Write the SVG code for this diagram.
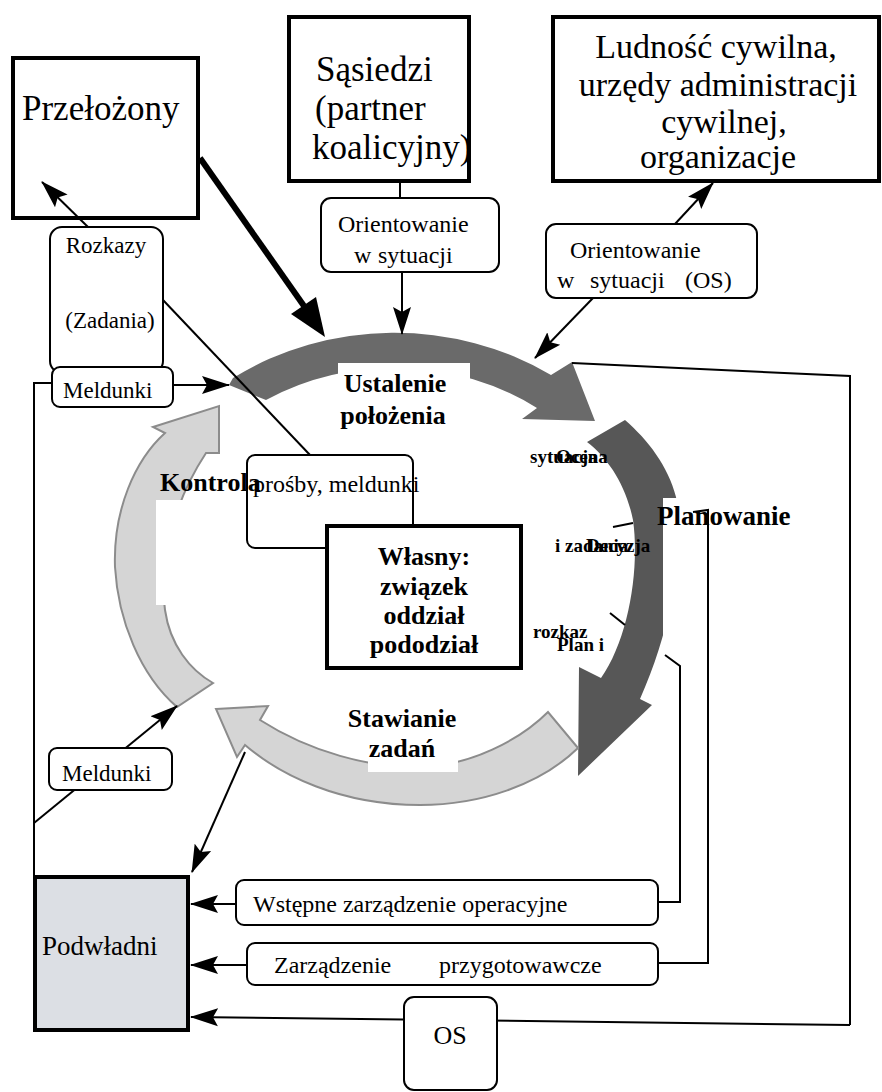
<svg xmlns="http://www.w3.org/2000/svg" width="882" height="1092" viewBox="0 0 882 1092">
<defs>
<style>
  .t{font-family:"Liberation Serif","Times New Roman",serif;fill:#000}
  .b{font-weight:bold}
  .box{fill:#fff;stroke:#000;stroke-width:4}
  .open{fill:none;stroke:#000;stroke-width:4}
  .rbox{fill:#fff;stroke:#000;stroke-width:2}
  .ln{fill:none;stroke:#000;stroke-width:2}
  .arr{fill:none;stroke:#000;stroke-width:2;marker-end:url(#ah)}
  .dark{fill:#6a6a6a}
  .darker{fill:#575757}
  .light{fill:#d5d5d5;stroke:#8c8c8c;stroke-width:2}
  .patch{fill:#fff}
</style>
<marker id="ah" viewBox="0 0 28 20" refX="27" refY="10" markerWidth="28" markerHeight="20" markerUnits="userSpaceOnUse" orient="auto">
  <path d="M0,1 L28,10 L0,19 L5,10 Z" fill="#000"/>
</marker>
</defs>
<rect width="882" height="1092" fill="#fff"/>

<!-- command cycle: four curved arrows -->
<g id="ustalenie">
  <path class="dark" d="M266,400 L229,385 L233,378 A285 257 0 0 1 551,375 L572,362 L595,421 L522,419 L537,408 A248 222 0 0 0 266,400 Z"/>
  <rect class="patch" x="338" y="363" width="132" height="69"/>
  <text class="t b" x="395" y="392" font-size="26" text-anchor="middle">Ustalenie</text>
  <text class="t b" x="393" y="424" font-size="26" text-anchor="middle">położenia</text>
</g>
<g id="planowanie">
  <path class="darker" d="M587,442 L625,420 C648,440 668,466 676,497 C682,530 680,610 640,699 L652,705 L578,776 L579,667 L601,678 C628,640 640,570 633,520 C626,485 608,458 587,442 Z"/>
  <rect class="patch" x="663" y="498" width="137" height="142"/>
  <text class="t b" x="657" y="525" font-size="27">Planowanie</text>
  <text class="t b" x="530" y="463" font-size="19">sytuacja</text>
  <text class="t b" x="556" y="463" font-size="19">Ocena</text>
  <text class="t b" x="555" y="552" font-size="19">i zadania</text>
  <text class="t b" x="586" y="552" font-size="19">Decyzja</text>
  <text class="t b" x="533" y="638" font-size="19">rozkaz</text>
  <text class="t b" x="557" y="651" font-size="19">Plan i</text>
</g>
<g id="stawianie">
  <path class="light" d="M216,709 L268,706 L260,720 C310,752 370,768 420,767 C470,766 520,740 548,712 L578,748 C540,785 480,805 420,805 C340,805 280,775 245,745 L237,757 Z"/>
  <rect class="patch" x="368" y="736" width="90" height="36"/>
  <text class="t b" x="402" y="727" font-size="26" text-anchor="middle">Stawianie</text>
  <text class="t b" x="402" y="757" font-size="26" text-anchor="middle">zadań</text>
</g>
<g id="kontrola">
  <path class="light" d="M219,406 L219,453 L206,453 C175,500 158,560 165,610 C170,645 190,670 213,683 L177,707 C140,675 118,620 115,567 C113,510 135,460 165,433 L153,427 Z"/>
  <rect class="patch" x="156" y="500" width="109" height="105"/>
  <text class="t b" x="160" y="491" font-size="26">Kontrola</text>
</g>

<!-- connectors -->
<g id="connectors">
  <line class="arr" x1="88" y1="227" x2="42" y2="182"/>
  <line x1="200" y1="158" x2="304" y2="306" stroke="#000" stroke-width="6"/>
  <polygon points="325,337 291,314 316,297" fill="#000"/>
  <line class="ln" x1="400" y1="181" x2="400" y2="198" stroke-width="2.5"/>
  <line class="arr" x1="402" y1="272" x2="402" y2="334"/>
  <line class="arr" x1="675" y1="224" x2="713" y2="183"/>
  <line class="arr" x1="593" y1="298" x2="535" y2="358"/>
  <line class="arr" x1="173" y1="385" x2="229" y2="385"/>
  <polyline class="ln" points="52,383 34,383 34,877"/>
  <line class="ln" x1="163" y1="300" x2="310" y2="455"/>
  <line class="arr" x1="34" y1="823" x2="177" y2="706"/>
  <line class="arr" x1="245" y1="752" x2="192" y2="872"/>
  <polyline class="ln" points="572,363 850,376 850,1025"/>
  <polyline class="arr" points="850,1025 191,1017"/>
  <line class="ln" x1="613" y1="527" x2="633" y2="523"/>
  <line class="ln" x1="610" y1="613" x2="625" y2="625"/>
  <polyline class="ln" points="665,655 680,666 680,902 658,902"/>
  <polyline class="ln" points="693,512 708,510 708,963 658,963"/>
  <line class="arr" x1="236" y1="904" x2="191" y2="904"/>
  <line class="arr" x1="247" y1="965" x2="191" y2="965"/>
</g>

<!-- units and information sources -->
<g id="przelozony">
  <rect class="open" x="13" y="58" width="185" height="160"/>
  <text class="t" x="22" y="120" font-size="35">Przełożony</text>
</g>
<g id="sasiedzi">
  <rect class="box" x="289" y="17" width="180" height="164"/>
  <text class="t" x="316" y="81" font-size="35">Sąsiedzi</text>
  <text class="t" x="315" y="120" font-size="35">(partner</text>
  <text class="t" x="312" y="159" font-size="35">koalicyjny)</text>
</g>
<g id="ludnosc">
  <rect class="box" x="553" y="17" width="326" height="164"/>
  <text class="t" x="716" y="58" font-size="34" text-anchor="middle">Ludność cywilna,</text>
  <text class="t" x="718" y="96" font-size="34" text-anchor="middle">urzędy administracji</text>
  <text class="t" x="724" y="133" font-size="34" text-anchor="middle">cywilnej,</text>
  <text class="t" x="718" y="168" font-size="34" text-anchor="middle">organizacje</text>
</g>
<g id="os-sasiedzi">
  <rect class="rbox" x="321" y="198" width="178" height="74" rx="10"/>
  <text class="t" x="338" y="232" font-size="24">Orientowanie</text>
  <text class="t" x="354" y="263" font-size="24">w</text>
  <text class="t" x="378" y="263" font-size="24">sytuacji</text>
</g>
<g id="os-ludnosc">
  <rect class="rbox" x="546" y="224" width="211" height="74" rx="10"/>
  <text class="t" x="570" y="258" font-size="24">Orientowanie</text>
  <text class="t" x="557" y="288" font-size="24">w</text>
  <text class="t" x="590" y="288" font-size="24">sytuacji</text>
  <text class="t" x="685" y="288" font-size="24">(OS)</text>
</g>
<g id="rozkazy">
  <rect class="rbox" x="50" y="227" width="113" height="146" rx="12"/>
  <text class="t" x="106" y="253" font-size="23" text-anchor="middle">Rozkazy</text>
  <text class="t" x="110" y="328" font-size="23" text-anchor="middle">(Zadania)</text>
</g>
<g id="meldunki-gora">
  <rect class="rbox" x="52" y="367" width="121" height="40" rx="8"/>
  <text class="t" x="63" y="398" font-size="23">Meldunki</text>
</g>
<g id="prosby">
  <rect x="247" y="455" width="166" height="93" rx="8" fill="none" stroke="#000" stroke-width="2"/>
  <text class="t" x="253" y="492" font-size="24">prośby, meldunki</text>
</g>
<g id="wlasny">
  <rect class="box" x="327" y="526" width="194" height="142"/>
  <text class="t b" x="424" y="565" font-size="26" text-anchor="middle">Własny:</text>
  <text class="t b" x="424" y="595" font-size="26" text-anchor="middle">związek</text>
  <text class="t b" x="424" y="624" font-size="26" text-anchor="middle">oddział</text>
  <text class="t b" x="424" y="653" font-size="26" text-anchor="middle">pododział</text>
</g>
<g id="meldunki-dol">
  <rect class="rbox" x="49" y="748" width="123" height="42" rx="8"/>
  <text class="t" x="62" y="781" font-size="23">Meldunki</text>
</g>
<g id="podwladni">
  <rect x="35" y="877" width="153" height="153" fill="#dcdfe4" stroke="#000" stroke-width="4"/>
  <text class="t" x="42" y="955" font-size="27">Podwładni</text>
</g>
<g id="wstepne">
  <rect class="rbox" x="236" y="880" width="422" height="45" rx="8"/>
  <text class="t" x="253" y="912" font-size="24">Wstępne zarządzenie operacyjne</text>
</g>
<g id="przygotowawcze">
  <rect class="rbox" x="247" y="943" width="411" height="42" rx="8"/>
  <text class="t" x="274" y="973" font-size="24">Zarządzenie</text>
  <text class="t" x="439" y="973" font-size="24">przygotowawcze</text>
</g>
<g id="os-dol">
  <rect class="rbox" x="404" y="997" width="93" height="93" rx="10"/>
  <text class="t" x="450" y="1044" font-size="26" text-anchor="middle">OS</text>
</g>
</svg>
